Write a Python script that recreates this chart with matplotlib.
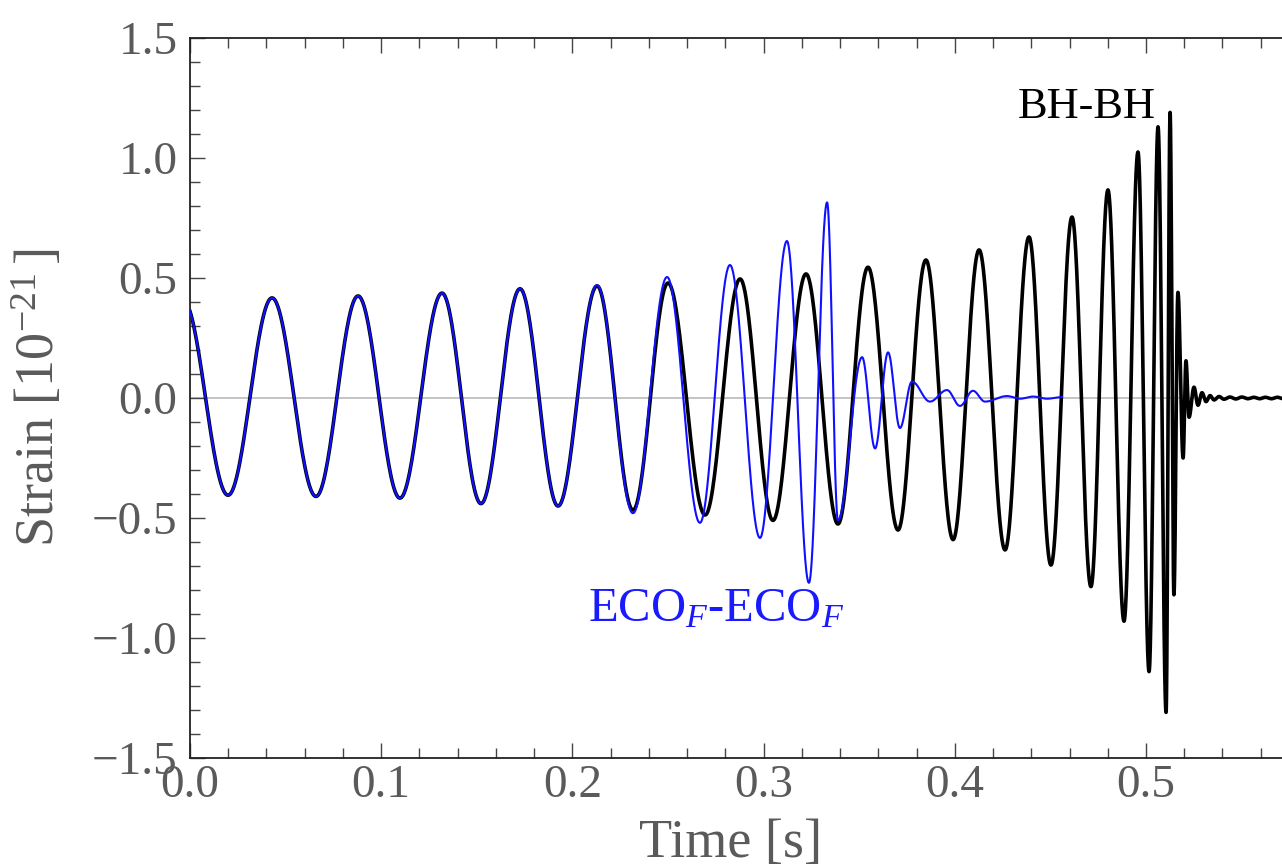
import numpy as np
import matplotlib
matplotlib.use("Agg")
import matplotlib.pyplot as plt
from matplotlib.ticker import MultipleLocator, FuncFormatter

plt.rcParams['font.family'] = ['Liberation Serif', 'DejaVu Serif']
plt.rcParams['mathtext.fontset'] = 'custom'
plt.rcParams['mathtext.rm'] = 'Liberation Serif'
plt.rcParams['mathtext.it'] = 'Liberation Serif:italic'

# Extrema of the BH-BH waveform (time [s], strain [1e-21])
bh_t = [-0.0037, 0.0199, 0.0429, 0.0659, 0.0879, 0.1098, 0.1318, 0.1522, 0.1726,
        0.1925, 0.2129, 0.2317, 0.2500, 0.2694, 0.2877, 0.3049, 0.3222, 0.3389,
        0.3546, 0.3703, 0.3849, 0.3991, 0.4127, 0.4263, 0.4388, 0.4503, 0.4613,
        0.4712, 0.4801, 0.4885, 0.4958, 0.5016, 0.5063, 0.5105, 0.5126, 0.5146,
        0.5167, 0.5194, 0.5209, 0.5225, 0.5251, 0.5272, 0.5293, 0.5314, 0.5335,
        0.5356, 0.5382, 0.5408, 0.5439, 0.5470, 0.5501, 0.5532, 0.5563, 0.5594,
        0.5625, 0.5656, 0.5687, 0.5718, 0.5749, 0.5780, 0.5811, 0.5842, 0.5873,
        0.5904, 0.5935, 0.5966, 0.5997, 0.6028]
bh_s = [0.41, -0.405, 0.417, -0.41, 0.425, -0.417, 0.437, -0.44, 0.455,
        -0.45, 0.467, -0.467, 0.479, -0.4875, 0.496, -0.51, 0.517, -0.525,
        0.545, -0.55, 0.575, -0.59, 0.617, -0.633, 0.671, -0.696, 0.754,
        -0.786, 0.867, -0.93, 1.025, -1.14, 1.13, -1.31, 1.19, -0.82,
        0.44, -0.25, 0.155, -0.08, 0.045, -0.03, 0.022, -0.015, 0.01,
        -0.008, 0.006, -0.005, 0.004, -0.004, 0.004, -0.003, 0.003, -0.003,
        0.003, -0.003, 0.003, -0.003, 0.003, -0.003, 0.003, -0.003, 0.003,
        -0.003, 0.003, -0.003, 0.003, -0.003]

# Extrema of the ECO_F-ECO_F waveform
eco_t = [-0.0037, 0.0199, 0.0429, 0.0659, 0.0879, 0.1098, 0.1318, 0.1522, 0.1726,
         0.1925, 0.2129, 0.2317, 0.2495, 0.2667, 0.2824, 0.2981, 0.3122, 0.3237,
         0.3332, 0.3389, 0.3515, 0.3583, 0.3651, 0.3713, 0.3776, 0.3870, 0.3959,
         0.4027, 0.4095, 0.4158, 0.4273, 0.4341, 0.4409, 0.4482, 0.4561]
eco_s = [0.41, -0.405, 0.417, -0.41, 0.425, -0.417, 0.437, -0.44, 0.455,
         -0.45, 0.47, -0.48, 0.504, -0.52, 0.554, -0.583, 0.654, -0.77,
         0.815, -0.51, 0.17, -0.21, 0.19, -0.125, 0.068, -0.015, 0.033,
         -0.033, 0.03, -0.015, 0.008, -0.003, 0.006, -0.003, 0.004]

x_major = [0.0, 0.1, 0.2, 0.3, 0.4, 0.5]
y_major = [-1.5, -1.0, -0.5, 0.0, 0.5, 1.0, 1.5]


def waveform(te, se, n=60):
    """Draw smooth half-cycles between consecutive extrema."""
    ts, ss = [], []
    for i in range(len(te) - 1):
        u = np.linspace(0, 1, n, endpoint=False)
        ts.append(te[i] + (te[i + 1] - te[i]) * u)
        ss.append((se[i] + se[i + 1]) / 2 + (se[i] - se[i + 1]) / 2 * np.cos(np.pi * u))
    ts.append([te[-1]])
    ss.append([se[-1]])
    return np.concatenate(ts), np.concatenate(ss)


fig = plt.figure(figsize=(12.82, 8.68), dpi=100)
W, H = 1282, 868
x0_px, px_per_s = 190, 1912
ax_right = x0_px + 0.6 * px_per_s
ax_left, ax_top, ax_bot = x0_px, 38, 758
ax = fig.add_axes([ax_left / W, (H - ax_bot) / H, (ax_right - ax_left) / W, (ax_bot - ax_top) / H])

ax.axhline(0, color='#b4b4b4', lw=1.1, zorder=1)
bt, bs = waveform(bh_t, bh_s)
et, es = waveform(eco_t, eco_s)
ax.plot(bt, bs, color='black', lw=2.6, zorder=2, solid_capstyle='round')
ax.plot(et, es, color='#1010ff', lw=1.5, zorder=3)

ax.set_xlim(0, 0.6)
ax.set_ylim(-1.5, 1.5)
ax.set_xticks(x_major)
ax.set_yticks(y_major)
ax.xaxis.set_minor_locator(MultipleLocator(0.02))
ax.yaxis.set_minor_locator(MultipleLocator(0.1))
fmt = FuncFormatter(lambda v, p: ('%.1f' % v).replace('-', '\u2212'))
ax.xaxis.set_major_formatter(fmt)
ax.yaxis.set_major_formatter(fmt)

ax.tick_params(which='both', direction='in', top=True, right=True, color='#444444', width=1.0,
               labelsize=34, labelcolor='#5a5a5a')
ax.tick_params(which='major', length=11, pad=5)
ax.tick_params(which='minor', length=7)
ax.tick_params(axis='y', which='major', pad=9)
for sp in ax.spines.values():
    sp.set_color('#222222')
    sp.set_linewidth(1.3)

ax.set_xlabel('Time [s]', fontsize=39, color='#5a5a5a')
ax.set_ylabel('Strain [10$^{\u221221}$$\\,$]', fontsize=39, color='#5a5a5a')
axw = ax_right - ax_left
axh = ax_bot - ax_top
ax.xaxis.set_label_coords((731 - ax_left) / axw, -(818 - ax_bot) / axh)
ax.xaxis.label.set_va('top')
ax.yaxis.set_label_coords(-(ax_left - 66) / axw, 0.5)

ax.text(0.433, 1.167, 'BH-BH', fontsize=32, color='black', ha='left', va='baseline')
ax.text(0.208, -0.929, 'ECO$_{F}$-ECO$_{F}$', fontsize=35, color='#1a1aff', ha='left', va='baseline')

fig.savefig('out.png', dpi=100)
